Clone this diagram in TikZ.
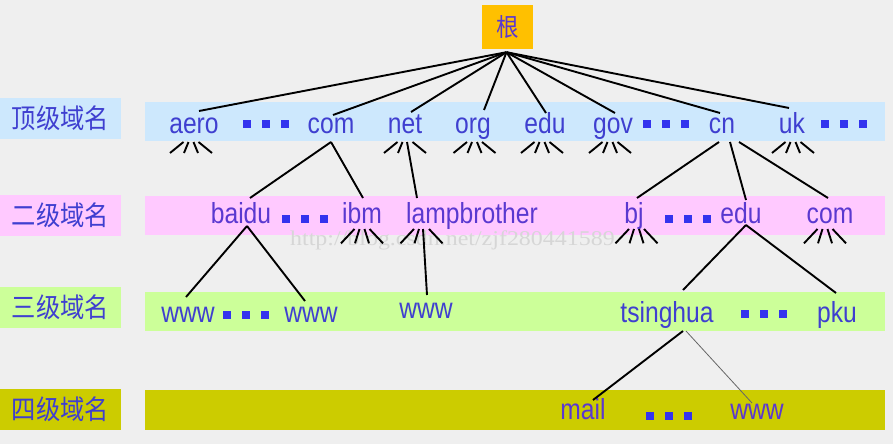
\documentclass[tikz,border=0pt]{standalone}
\usepackage{fontspec}
\setmainfont{Liberation Sans}
\newfontfamily\cjk{Noto Sans CJK SC}
\newfontfamily\wmfont{Liberation Serif}
\usetikzlibrary{calc}
\definecolor{bgc}{HTML}{EFEFEF}
\definecolor{bandA}{HTML}{CDE8FD}
\definecolor{bandB}{HTML}{FFC9FF}
\definecolor{bandC}{HTML}{CCFF99}
\definecolor{bandD}{HTML}{CCCC00}
\definecolor{rootc}{HTML}{FFC000}
\definecolor{txtA}{HTML}{3F3FD0}
\definecolor{txtB}{HTML}{5A38D0}
\definecolor{dotc}{HTML}{3333EE}
\definecolor{wmc}{HTML}{D6D6D6}
\newcommand{\nx}[1]{\scalebox{0.85}[1]{#1}}
\newcommand{\cx}[1]{\scalebox{0.9}[1]{#1}}
\begin{document}
\begin{tikzpicture}[x=1pt,y=-1pt,
  lbl/.style={font=\fontsize{29}{32}\selectfont, text=txtA, inner sep=0pt, anchor=base},
  lblB/.style={lbl, text=txtB},
  side/.style={font=\fontsize{27}{30}\selectfont\cjk, text=txtA, inner sep=0pt, minimum width=121pt, minimum height=41pt},
  conn/.style={line width=1.9pt, black},
  thin/.style={line width=0.8pt, black!60},
  fanpic/.pic={\draw[conn] (-7.5,0)--(-21,11) (-2.5,0)--(-7,11) (2.5,0)--(7,11) (7.5,0)--(21,11);},
  fanthree/.pic={\draw[conn] (-7.5,0)--(-21,11) (-2.5,0)--(-7,11) (7.5,0)--(21,11);},
  dotspic/.pic={\foreach \i in {0,1,2} \fill[dotc] (\i*19.2-4,-4) rectangle ++(8,8);}
]
\fill[bgc] (0,0) rectangle (893,444);
\useasboundingbox (0,0) rectangle (893,444);
% bands
\fill[bandA] (145,102) rectangle (885,141);
\fill[bandB] (145,196) rectangle (885,235);
\fill[bandC] (145,292) rectangle (885,331);
\fill[bandD] (145,390) rectangle (885,430);
% side labels
\node[side, fill=bandA] (s1) at (60.5,118.5) {\cx{顶级域名}};
\node[side, fill=bandB] (s2) at (60.5,215.5) {\cx{二级域名}};
\node[side, fill=bandC] (s3) at (60.5,307.5) {\cx{三级域名}};
\node[side, fill=bandD] (s4) at (60.5,409.5) {\cx{四级域名}};
% watermark
\node[font=\fontsize{21}{23}\selectfont\wmfont, text=wmc, inner sep=0pt, anchor=base west] (wm) at (290,245) {\scalebox{1.14}[1]{http://blog.csdn.net/zjf280441589}};
% root
\node[fill=rootc, minimum width=51pt, minimum height=44pt, inner sep=0pt, font=\fontsize{25}{28}\selectfont\cjk, text=txtB] (root) at (507.5,27) {\cx{根}};
% row 1
\node[lbl] (aero) at (194,133) {\nx{aero}};
\node[lbl] (com) at (331,133) {\nx{com}};
\node[lbl] (net) at (405,133) {\nx{net}};
\node[lbl] (org) at (473,133) {\nx{org}};
\node[lbl] (edu) at (545,133) {\nx{edu}};
\node[lbl] (gov) at (613,133) {\nx{gov}};
\node[lbl] (cn) at (722,133) {\nx{cn}};
\node[lbl] (uk) at (792,133) {\nx{uk}};
\pic at (247,124) {dotspic};
\pic at (647,124) {dotspic};
\pic at (825,124) {dotspic};
% row 2
\node[lblB] (baidu) at (241,223) {\nx{baidu}};
\node[lblB] (ibm) at (362,223) {\nx{ibm}};
\node[lblB] (lamp) at (472,223) {\nx{lampbrother}};
\node[lblB] (bj) at (634,223) {\nx{bj}};
\node[lblB] (edu2) at (741,223) {\nx{edu}};
\node[lblB] (com2) at (830,223) {\nx{com}};
\pic at (286,219) {dotspic};
\pic at (669,219) {dotspic};
% row 3
\node[lbl] (w1) at (188,322) {\nx{www}};
\node[lbl] (w2) at (311,322) {\nx{www}};
\node[lbl] (w3) at (426,318) {\nx{www}};
\node[lbl] (tsing) at (667,322) {\nx{tsinghua}};
\node[lbl] (pku) at (837,322) {\nx{pku}};
\pic at (227,314.5) {dotspic};
\pic at (745,314) {dotspic};
% row 4
\node[lblB] (mail) at (583,419) {\nx{mail}};
\node[lblB] (w4) at (757,419) {\nx{www}};
\pic at (650,416) {dotspic};
% root connectors
\coordinate (rt) at ($(root.south)+(-1,3)$);
\draw[conn] (rt) -- ($(aero.base)+(5,-22)$);
\draw[conn] (rt) -- ($(com.base)+(2,-18)$);
\draw[conn] (rt) -- ($(net.base)+(6,-21)$);
\draw[conn] (rt) -- ($(org.base)+(11,-23)$);
\draw[conn] (rt) -- ($(edu.base)+(1,-20)$);
\draw[conn] (rt) -- ($(gov.base)+(2,-20)$);
\draw[conn] (rt) -- ($(cn.base)+(-2,-20)$);
\draw[conn] (rt) -- ($(uk.base)+(-3,-25)$);
% row 1 fans
\pic at ($(aero.base)+(-3,9)$) {fanpic};
\pic at ($(net.base)+(0,9)$) {fanthree};
\pic at ($(org.base)+(1.5,9)$) {fanpic};
\pic at ($(edu.base)+(-3,9)$) {fanpic};
\pic at ($(gov.base)+(-3,9)$) {fanpic};
\pic at ($(uk.base)+(1,9)$) {fanpic};
% row 1 -> row 2
\draw[conn] ($(com.base)+(0,9)$) -- ($(baidu.base)+(9,-25)$);
\draw[conn] ($(com.base)+(0,9)$) -- ($(ibm.base)+(1,-25)$);
\draw[conn] ($(net.base)+(2,9)$) -- ($(lamp.base)+(-55,-25)$);
\draw[conn] ($(cn.base)+(-3,9)$) -- ($(bj.base)+(3,-25)$);
\draw[conn] ($(cn.base)+(8,9)$) -- ($(edu2.base)+(5,-23)$);
\draw[conn] ($(cn.base)+(17,9)$) -- ($(com2.base)+(-2,-25)$);
% row 2 fans
\pic[yscale=1.3] at ($(ibm.base)+(0,6)$) {fanpic};
\pic[yscale=1.3] at ($(lamp.base)+(-50.5,6)$) {fanthree};
\pic[yscale=1.3] at ($(bj.base)+(2.5,6)$) {fanpic};
\pic[yscale=1.3] at ($(com2.base)+(-5,6)$) {fanpic};
% row 2 -> row 3
\draw[conn] ($(baidu.base)+(6,3)$) -- ($(w1.base)+(-2,-25)$);
\draw[conn] ($(baidu.base)+(6,3)$) -- ($(w2.base)+(-6,-21)$);
\draw[conn] ($(lamp.base)+(-49,6)$) -- ($(w3.base)+(1,-23)$);
\draw[conn] ($(edu2.base)+(5,2)$) -- ($(tsing.base)+(16,-32)$);
\draw[conn] ($(edu2.base)+(5,2)$) -- ($(pku.base)+(-1,-29)$);
% row 3 -> row 4
\draw[conn] ($(tsing.base)+(16,9)$) -- ($(mail.base)+(10,-19)$);
\draw[thin] ($(tsing.base)+(19,9)$) -- ($(w4.base)+(-5,-16)$);
\end{tikzpicture}
\end{document}
